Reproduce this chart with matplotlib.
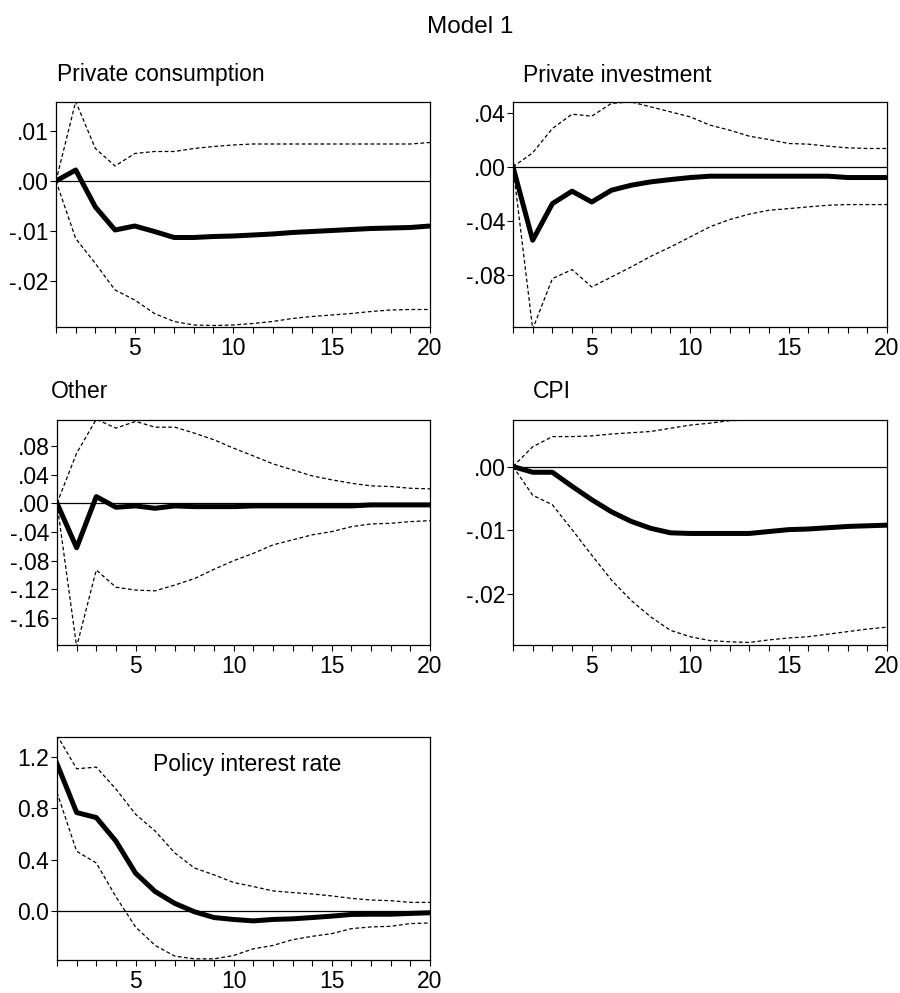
import matplotlib
matplotlib.use("Agg")
import matplotlib.pyplot as plt
from matplotlib.ticker import FuncFormatter

plt.rcParams['font.family'] = ['Liberation Sans', 'DejaVu Sans']

periods = list(range(1, 21))

# Private consumption
cons_resp = [0, 0.0022, -0.0052, -0.0098, -0.0090, -0.0101, -0.0113, -0.0113, -0.0111, -0.0110,
             -0.0108, -0.0106, -0.0103, -0.0101, -0.0099, -0.0097, -0.0095, -0.0094, -0.0093, -0.0090]
cons_hi = [0, 0.0159, 0.0065, 0.0030, 0.0055, 0.0059, 0.0059, 0.0065, 0.0069, 0.0072,
           0.0074, 0.0074, 0.0074, 0.0074, 0.0074, 0.0074, 0.0074, 0.0074, 0.0074, 0.0077]
cons_lo = [0, -0.0115, -0.0165, -0.0218, -0.0238, -0.0265, -0.0281, -0.0288, -0.0289, -0.0288,
           -0.0285, -0.0281, -0.0275, -0.0271, -0.0268, -0.0265, -0.0261, -0.0258, -0.0257, -0.0257]

# Private investment
inv_resp = [0, -0.0543, -0.0272, -0.0180, -0.0260, -0.0173, -0.0136, -0.0111, -0.0094, -0.0079,
            -0.0069, -0.0069, -0.0069, -0.0069, -0.0069, -0.0069, -0.0069, -0.0079, -0.0079, -0.0079]
inv_hi = [0, 0.0104, 0.0284, 0.0390, 0.0375, 0.0470, 0.0480, 0.0444, 0.0407, 0.0370,
          0.0309, 0.0272, 0.0227, 0.0202, 0.0173, 0.0168, 0.0153, 0.0141, 0.0136, 0.0136]
inv_lo = [0, -0.1200, -0.0827, -0.0760, -0.0889, -0.0815, -0.0741, -0.0662, -0.0593, -0.0519,
          -0.0444, -0.0390, -0.0350, -0.0321, -0.0309, -0.0296, -0.0284, -0.0279, -0.0279, -0.0279]

# Other
oth_resp = [0, -0.062, 0.0093, -0.0056, -0.0037, -0.0070, -0.0037, -0.0047, -0.0047, -0.0047,
            -0.0037, -0.0037, -0.0037, -0.0037, -0.0037, -0.0037, -0.0023, -0.0023, -0.0023, -0.0023]
oth_hi = [0, 0.0698, 0.1170, 0.1047, 0.1140, 0.1060, 0.1060, 0.0977, 0.0884, 0.0767,
          0.0660, 0.0549, 0.0465, 0.0381, 0.0326, 0.0279, 0.0242, 0.0233, 0.0209, 0.0200]
oth_lo = [0, -0.2000, -0.093, -0.117, -0.121, -0.122, -0.114, -0.105, -0.092, -0.080,
          -0.0698, -0.058, -0.051, -0.044, -0.0395, -0.0326, -0.0288, -0.0279, -0.0256, -0.0242]

# CPI
cpi_resp = [0, -0.0009, -0.0009, -0.0031, -0.0052, -0.0071, -0.0086, -0.0097, -0.0104, -0.0105,
            -0.0105, -0.0105, -0.0105, -0.0102, -0.0099, -0.0098, -0.0096, -0.0094, -0.0093, -0.0092]
cpi_hi = [0, 0.0031, 0.0047, 0.0047, 0.0048, 0.0051, 0.0053, 0.0055, 0.0060, 0.0065,
          0.0068, 0.0072, 0.0073, 0.0073, 0.0073, 0.0073, 0.0073, 0.0073, 0.0073, 0.0073]
cpi_lo = [0, -0.0045, -0.0060, -0.0099, -0.0139, -0.0178, -0.0210, -0.0236, -0.0257, -0.0267,
          -0.0273, -0.0275, -0.0276, -0.0272, -0.0269, -0.0267, -0.0263, -0.0259, -0.0255, -0.0252]

# Policy interest rate
rate_resp = [1.145, 0.766, 0.727, 0.544, 0.295, 0.152, 0.060, -0.005, -0.050, -0.065,
             -0.076, -0.065, -0.060, -0.050, -0.039, -0.026, -0.024, -0.024, -0.018, -0.013]
rate_hi = [1.367, 1.106, 1.119, 0.949, 0.753, 0.622, 0.452, 0.335, 0.282, 0.222,
           0.191, 0.157, 0.144, 0.133, 0.118, 0.099, 0.086, 0.081, 0.068, 0.068]
rate_lo = [0.923, 0.465, 0.374, 0.112, -0.123, -0.267, -0.350, -0.371, -0.371, -0.345,
           -0.293, -0.267, -0.222, -0.196, -0.175, -0.136, -0.123, -0.118, -0.097, -0.092]

W, H = 900, 993
FS = 16.5


def box(left, top, right, bottom):
    return [left / W, 1 - bottom / H, (right - left) / W, (bottom - top) / H]


def eviews_fmt(v, pos):
    s = f"{v:.2f}".replace("0.", ".", 1)
    if s == "-.00":
        return ".00"
    return s


def draw(ax, resp, lo, hi, ylim, yticks, fmt):
    ax.plot(periods, hi, color='black', lw=0.9, ls=(0, (3, 2)))
    ax.plot(periods, lo, color='black', lw=0.9, ls=(0, (3, 2)))
    ax.axhline(0, color='black', lw=0.9)
    ax.plot(periods, resp, color='black', lw=3.6, solid_joinstyle='round')
    ax.set_xlim(1, 20)
    ax.set_ylim(*ylim)
    ax.set_xticks(periods)
    ax.set_xticklabels([str(p) if p % 5 == 0 else '' for p in periods])
    ax.set_yticks(yticks)
    ax.yaxis.set_major_formatter(FuncFormatter(fmt))
    ax.tick_params(direction='out', length=4, width=0.8, labelsize=FS, colors='black')
    ax.tick_params(axis='x', pad=3)
    ax.tick_params(axis='y', pad=1.5)
    for sp in ax.spines.values():
        sp.set_linewidth(0.9)


fig = plt.figure(figsize=(9, 9.93), dpi=100)

ax1 = fig.add_axes(box(56, 102, 430, 327))
draw(ax1, cons_resp, cons_lo, cons_hi, (-0.0292, 0.0158), [-0.02, -0.01, 0.0, 0.01], eviews_fmt)

ax2 = fig.add_axes(box(513, 102, 887, 327))
draw(ax2, inv_resp, inv_lo, inv_hi, (-0.1185, 0.048), [-0.08, -0.04, 0.0, 0.04], eviews_fmt)

ax3 = fig.add_axes(box(57, 420, 430, 645))
draw(ax3, oth_resp, oth_lo, oth_hi, (-0.1975, 0.116),
     [-0.16, -0.12, -0.08, -0.04, 0.0, 0.04, 0.08], eviews_fmt)

ax4 = fig.add_axes(box(513, 420, 887, 645))
draw(ax4, cpi_resp, cpi_lo, cpi_hi, (-0.028, 0.0073), [-0.02, -0.01, 0.0], eviews_fmt)

ax5 = fig.add_axes(box(57, 737, 430, 960))
draw(ax5, rate_resp, rate_lo, rate_hi, (-0.38, 1.353), [0.0, 0.4, 0.8, 1.2],
     lambda v, p: f"{v:.1f}")
ax5.text(0.51, 0.875, 'Policy interest rate', transform=ax5.transAxes,
         ha='center', va='center', fontsize=FS)

fig.text(470 / W, 1 - 27 / H, 'Model 1', ha='center', va='center', fontsize=17.5)
fig.text(57 / W, 1 - 75 / H, 'Private consumption', ha='left', va='center', fontsize=FS)
fig.text(523 / W, 1 - 75 / H, 'Private investment', ha='left', va='center', fontsize=FS)
fig.text(51 / W, 1 - 392 / H, 'Other', ha='left', va='center', fontsize=FS)
fig.text(533 / W, 1 - 392 / H, 'CPI', ha='left', va='center', fontsize=FS)

fig.savefig('out.png', dpi=100, facecolor='white')
